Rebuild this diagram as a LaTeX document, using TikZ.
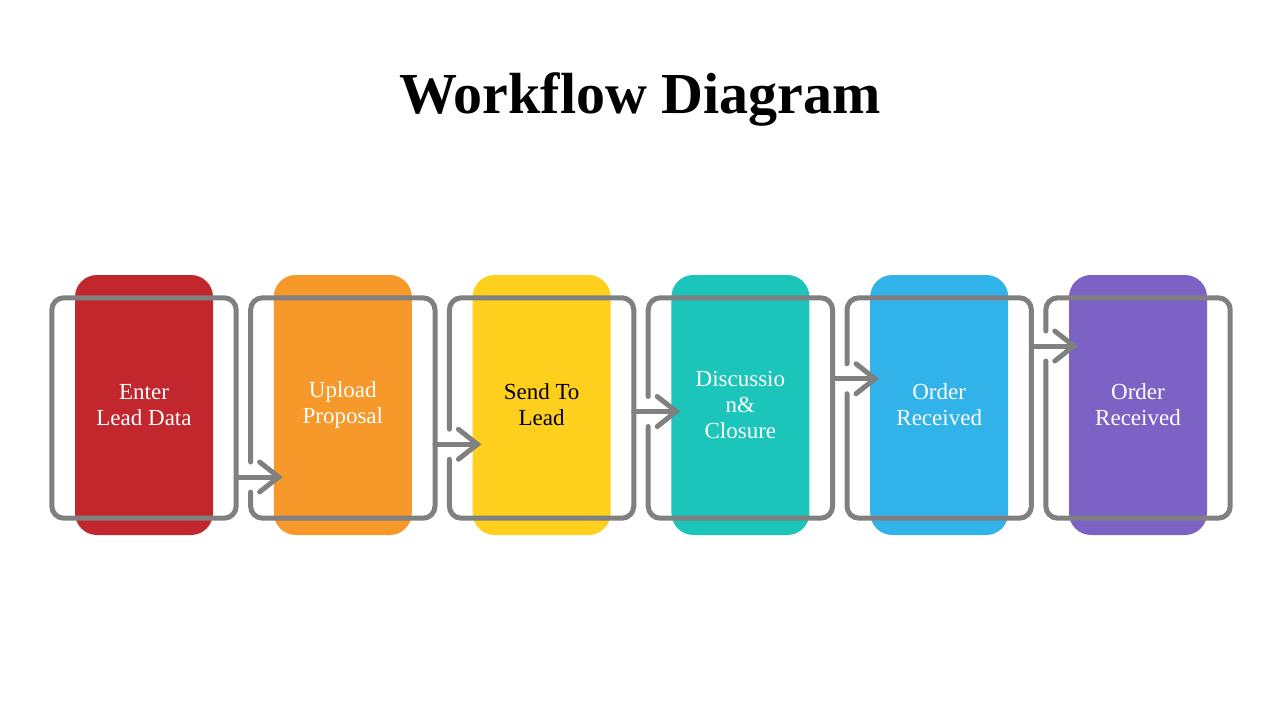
\documentclass[tikz,border=0pt]{standalone}
\usepackage{fontspec}
\setmainfont{Liberation Serif}
\definecolor{cred}{HTML}{C1272D}
\definecolor{corange}{HTML}{F6982A}
\definecolor{cyellow}{HTML}{FFCF1D}
\definecolor{cteal}{HTML}{1BC5BA}
\definecolor{cblue}{HTML}{31B3EA}
\definecolor{cpurple}{HTML}{7B62C4}
\definecolor{linegray}{HTML}{808080}
\begin{document}
\begin{tikzpicture}[x=1pt,y=-1pt,
  card/.style={rounded corners=22pt, minimum width=138pt, minimum height=260pt,
    inner sep=0pt, align=center, font=\fontsize{23}{26}\selectfont, text=white},
  fbox/.style={minimum width=184pt, minimum height=220pt, inner sep=0pt, draw=none},
  frame/.style={draw=linegray, line width=5pt, rounded corners=12pt, line cap=round},
  flow/.style={draw=linegray, line width=5pt, line cap=round, line join=miter}]
\useasboundingbox (0,0) rectangle (1280,720);
\node[font=\fontsize{58}{62}\selectfont\bfseries, anchor=base] (title) at (640,113) {Workflow Diagram};
\node[card, fill=cred] (c0) at (144,405) {Enter\\Lead Data};
\node[card, fill=corange] (c1) at (342.8,405) {Upload\\Proposal};
\node[card, fill=cyellow, text=black] (c2) at (541.6,405) {Send To\\Lead};
\node[card, fill=cteal] (c3) at (740.4,405) {Discussio\\n\&\\Closure};
\node[card, fill=cblue] (c4) at (939.2,405) {Order\\Received};
\node[card, fill=cpurple] (c5) at (1138,405) {Order\\Received};
\foreach \i in {0,...,5}{
  \node[fbox] (f\i) at ({144+198.8*\i},408) {};
}
\draw[frame] (f0.north west) rectangle (f0.south east);
\foreach \i in {1,...,5}{
  \pgfmathsetmacro{\ay}{477-32.75*(\i-1)}
  \pgfmathtruncatemacro{\j}{\i-1}
  \coordinate (g\i) at (f\i.west |- 0,\ay);
  \draw[frame] ([shift={(0,15)}]g\i) -- (f\i.south west) -- (f\i.south east)
     -- (f\i.north east) -- (f\i.north west) -- ([shift={(0,-15)}]g\i);
  \coordinate (t\i) at ([shift={(28,0)}]g\i);
  \draw[flow] (f\j.east |- g\i) -- (t\i);
  \draw[flow] ([shift={(-19,-15)}]t\i) -- (t\i) -- ([shift={(-19,15)}]t\i);
}
\end{tikzpicture}
\end{document}
